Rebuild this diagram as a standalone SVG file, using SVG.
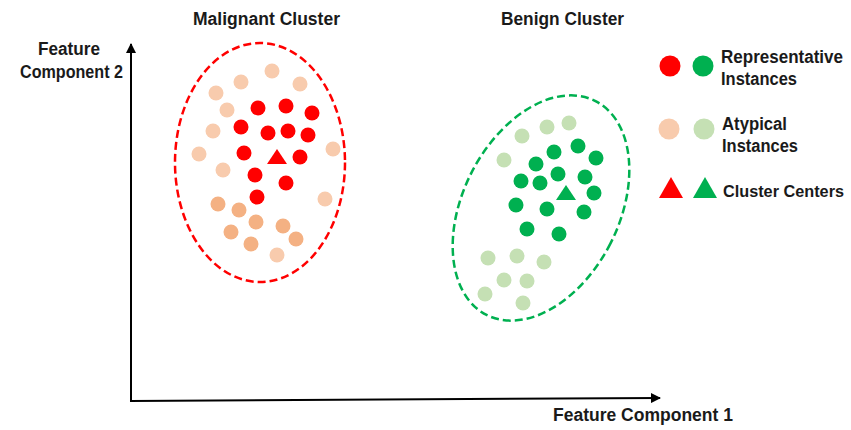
<svg xmlns="http://www.w3.org/2000/svg" width="851" height="430" viewBox="0 0 851 430">
  <style>
    .lbl { font-family: "Liberation Sans", Arial, sans-serif; font-weight: bold; font-size: 18px; fill: #1a1a1a; }
    .axis { stroke: #000; stroke-width: 2; fill: none; }
    .hull-m { fill: none; stroke: #FF0000; stroke-width: 2.5; stroke-dasharray: 8 4; }
    .hull-b { fill: none; stroke: #00B050; stroke-width: 2.5; stroke-dasharray: 8 4; }
    .rep-m { fill: #FF0000; }
    .aty-m { fill: #F8CBAD; }
    .aty-m2 { fill: #F4B183; }
    .rep-b { fill: #00B050; }
    .aty-b { fill: #C5E0B4; }
  </style>
  <defs>
    <marker id="arrow" viewBox="0 0 10 10" refX="9" refY="5" markerWidth="5" markerHeight="5" orient="auto" markerUnits="strokeWidth">
      <path d="M0,0 L10,5 L0,10 z" fill="#000"/>
    </marker>
  </defs>

  <rect width="851" height="430" fill="#fff"/>

  <!-- axes -->
  <g id="connectors">
    <line class="axis" x1="131" y1="401" x2="131" y2="44" marker-end="url(#arrow)"/>
    <line class="axis" x1="130" y1="401" x2="660" y2="398" marker-end="url(#arrow)"/>
  </g>

  <!-- axis labels -->
  <g id="axis-y-label">
    <text class="lbl" x="38" y="55" textLength="62" lengthAdjust="spacingAndGlyphs">Feature</text>
    <text class="lbl" x="20" y="78" textLength="103" lengthAdjust="spacingAndGlyphs">Component 2</text>
  </g>
  <g id="axis-x-label">
    <text class="lbl" x="553" y="421" textLength="180" lengthAdjust="spacingAndGlyphs">Feature Component 1</text>
  </g>

  <!-- malignant cluster -->
  <g id="malignant-cluster">
    <text class="lbl" x="193" y="25" textLength="147" lengthAdjust="spacingAndGlyphs">Malignant Cluster</text>
    <ellipse class="hull-m" cx="260" cy="162.5" rx="85" ry="119.5"/>
    <g class="aty-m">
      <circle cx="272" cy="71" r="7.5"/>
      <circle cx="241" cy="82" r="7.5"/>
      <circle cx="300" cy="84" r="7.5"/>
      <circle cx="216" cy="93" r="7.5"/>
      <circle cx="227" cy="110" r="7.5"/>
      <circle cx="213" cy="131" r="7.5"/>
      <circle cx="199" cy="154" r="7.5"/>
      <circle cx="333" cy="149" r="7.5"/>
      <circle cx="223" cy="170" r="7.5"/>
      <circle cx="325" cy="199" r="7.5"/>
      <circle cx="277" cy="255" r="7.5"/>
    </g>
    <g class="aty-m2">
      <circle cx="218" cy="204" r="7.5"/>
      <circle cx="239" cy="210" r="7.5"/>
      <circle cx="256" cy="222" r="7.5"/>
      <circle cx="231" cy="232" r="7.5"/>
      <circle cx="283" cy="226" r="7.5"/>
      <circle cx="251" cy="244" r="7.5"/>
      <circle cx="296" cy="239" r="7.5"/>
    </g>
    <g class="rep-m">
      <circle cx="258" cy="108" r="7.5"/>
      <circle cx="286" cy="106" r="7.5"/>
      <circle cx="312" cy="113" r="7.5"/>
      <circle cx="241" cy="127" r="7.5"/>
      <circle cx="268" cy="133" r="7.5"/>
      <circle cx="288" cy="131" r="7.5"/>
      <circle cx="308" cy="135" r="7.5"/>
      <circle cx="244" cy="153" r="7.5"/>
      <circle cx="300" cy="157" r="7.5"/>
      <circle cx="255" cy="175" r="7.5"/>
      <circle cx="286" cy="183" r="7.5"/>
      <circle cx="257" cy="197" r="7.5"/>
      <polygon points="277,149 287,164 267,164"/>
    </g>
  </g>

  <!-- benign cluster -->
  <g id="benign-cluster">
    <text class="lbl" x="501" y="25" textLength="123" lengthAdjust="spacingAndGlyphs">Benign Cluster</text>
    <ellipse class="hull-b" cx="0" cy="0" rx="78" ry="120" transform="translate(541 208) rotate(27)"/>
    <g class="aty-b">
      <circle cx="569" cy="123" r="7.5"/>
      <circle cx="547" cy="127" r="7.5"/>
      <circle cx="522" cy="136" r="7.5"/>
      <circle cx="504" cy="160" r="7.5"/>
      <circle cx="488" cy="258" r="7.5"/>
      <circle cx="517" cy="256" r="7.5"/>
      <circle cx="544" cy="262" r="7.5"/>
      <circle cx="504" cy="280" r="7.5"/>
      <circle cx="527" cy="281" r="7.5"/>
      <circle cx="485" cy="294" r="7.5"/>
      <circle cx="523" cy="303" r="7.5"/>
    </g>
    <g class="rep-b">
      <circle cx="578" cy="146" r="7.5"/>
      <circle cx="554" cy="152" r="7.5"/>
      <circle cx="596" cy="158" r="7.5"/>
      <circle cx="536" cy="164" r="7.5"/>
      <circle cx="558" cy="174" r="7.5"/>
      <circle cx="585" cy="177" r="7.5"/>
      <circle cx="521" cy="181" r="7.5"/>
      <circle cx="540" cy="183" r="7.5"/>
      <circle cx="594" cy="193" r="7.5"/>
      <circle cx="516" cy="205" r="7.5"/>
      <circle cx="547" cy="209" r="7.5"/>
      <circle cx="584" cy="212" r="7.5"/>
      <circle cx="527" cy="229" r="7.5"/>
      <circle cx="559" cy="234" r="7.5"/>
      <polygon points="566,185 576,200 556,200"/>
    </g>
  </g>

  <!-- legend -->
  <g id="legend-representative">
    <circle class="rep-m" cx="670" cy="66" r="10.5"/>
    <circle class="rep-b" cx="703" cy="66" r="10.5"/>
    <text class="lbl" x="721" y="63" textLength="122" lengthAdjust="spacingAndGlyphs">Representative</text>
    <text class="lbl" x="721" y="85" textLength="76" lengthAdjust="spacingAndGlyphs">Instances</text>
  </g>
  <g id="legend-atypical">
    <circle class="aty-m" cx="669" cy="129" r="10.5"/>
    <circle class="aty-b" cx="704" cy="129" r="10.5"/>
    <text class="lbl" x="722" y="130" textLength="65" lengthAdjust="spacingAndGlyphs">Atypical</text>
    <text class="lbl" x="722" y="152" textLength="76" lengthAdjust="spacingAndGlyphs">Instances</text>
  </g>
  <g id="legend-centers">
    <polygon class="rep-m" points="671,177 683,198 659,198"/>
    <polygon class="rep-b" points="705,177 717,198 693,198"/>
    <text class="lbl" x="723" y="197" font-size="16.5" textLength="121" lengthAdjust="spacingAndGlyphs" style="font-size:16.5px">Cluster Centers</text>
  </g>
</svg>
